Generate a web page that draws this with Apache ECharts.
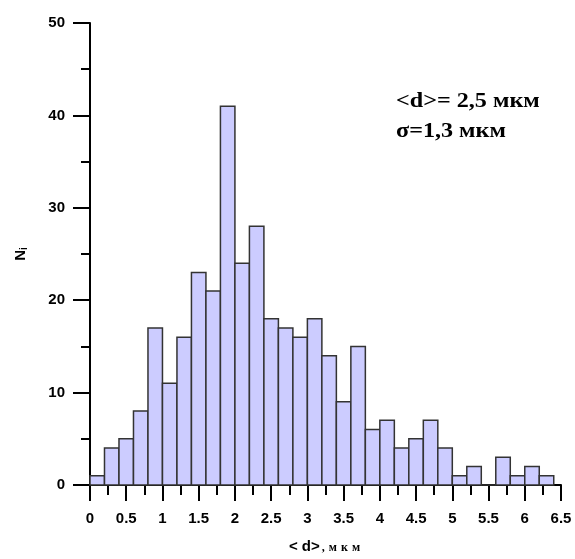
<!DOCTYPE html>
<html>
<head>
<meta charset="utf-8">
<script src="https://cdn.jsdelivr.net/npm/echarts@6/dist/echarts.min.js"></script>
<style>
  html, body { margin: 0; padding: 0; background: #fff; }
  #chart { width: 575px; height: 559px; }
</style>
</head>
<body>
<div id="chart"></div>
<script>
// histogram bins (left edge, micrometres) and counts
const binStart = [0, 0.2, 0.4, 0.6, 0.8, 1.0, 1.2, 1.4, 1.6, 1.8, 2.0, 2.2, 2.4, 2.6, 2.8, 3.0,
  3.2, 3.4, 3.6, 3.8, 4.0, 4.2, 4.4, 4.6, 4.8, 5.0, 5.2, 5.4, 5.6, 5.8, 6.0, 6.2];
const binWidth = 0.2;
const counts = [1, 4, 5, 8, 17, 11, 16, 23, 21, 41, 24, 28, 18, 17, 16, 18,
  14, 9, 15, 6, 7, 4, 5, 7, 4, 1, 2, 0, 3, 1, 2, 1];
const notes = ['<d>= 2,5 мкм', 'σ=1,3 мкм'];

const chart = echarts.init(document.getElementById('chart'));

const labelFont = {
  color: '#000',
  fontFamily: '"Liberation Sans", Arial, sans-serif',
  fontWeight: 'bold',
  fontSize: 15,
};

chart.setOption({
  backgroundColor: '#fff',
  animation: false,
  grid: { left: 90, right: 14, top: 23, bottom: 66 },
  xAxis: {
    type: 'value',
    min: 0,
    max: 6.5,
    interval: 0.5,
    // small-caps style unit, spaced out like the original
    name: '{a|< d>}{b|,}{b|м}{b|к}{b|м}',
    nameLocation: 'middle',
    nameGap: 54,
    nameTextStyle: {
      rich: {
        a: { fontFamily: '"Liberation Sans", Arial', fontWeight: 'bold', fontSize: 15, color: '#000' },
        b: { fontFamily: '"Liberation Serif", serif', fontWeight: 'bold', fontSize: 12, color: '#000', padding: [2, 2, 0, 2] },
      },
    },
    axisLine: { lineStyle: { color: '#000', width: 2 } },
    axisTick: { length: 16, lineStyle: { color: '#000', width: 2 } },
    minorTick: { show: true, splitNumber: 2, length: 10, lineStyle: { color: '#000', width: 2 } },
    splitLine: { show: false },
    axisLabel: Object.assign({ margin: 26, showMinLabel: true, showMaxLabel: true }, labelFont),
  },
  yAxis: {
    type: 'value',
    min: 0,
    max: 50,
    interval: 10,
    name: '{n|N}{s|i}',
    nameLocation: 'middle',
    nameGap: 61,
    nameRotate: 90,
    nameTextStyle: {
      rich: {
        n: { fontFamily: '"Liberation Sans", Arial', fontWeight: 'bold', fontSize: 15, color: '#000' },
        s: { fontFamily: '"Liberation Sans", Arial', fontWeight: 'bold', fontSize: 10, color: '#000', padding: [6, 0, 0, 0] },
      },
    },
    axisLine: { lineStyle: { color: '#000', width: 2 } },
    axisTick: { length: 17, lineStyle: { color: '#000', width: 2 } },
    minorTick: { show: true, splitNumber: 2, length: 9, lineStyle: { color: '#000', width: 2 } },
    splitLine: { show: false },
    axisLabel: Object.assign({ margin: 25 }, labelFont),
  },
  series: [{
    type: 'custom',
    data: binStart.map((x, i) => [x, x + binWidth, counts[i]]),
    encode: { x: [0, 1], y: 2 },
    renderItem: (params, api) => {
      const p0 = api.coord([api.value(0), 0]);
      const p1 = api.coord([api.value(1), api.value(2)]);
      return {
        type: 'rect',
        shape: { x: p0[0], y: p1[1], width: p1[0] - p0[0], height: p0[1] - p1[1] },
        style: { fill: '#ccccff', stroke: '#333', lineWidth: 1.5 },
      };
    },
    z: 1,
  }],
  graphic: notes.map((t, i) => ({
    type: 'text',
    x: 396,
    y: 91 + i * 30,
    scaleX: 1.15,
    style: {
      text: t,
      font: 'bold 21px "Liberation Serif", "Times New Roman", serif',
      fill: '#000',
    },
  })),
});
</script>
</body>
</html>
